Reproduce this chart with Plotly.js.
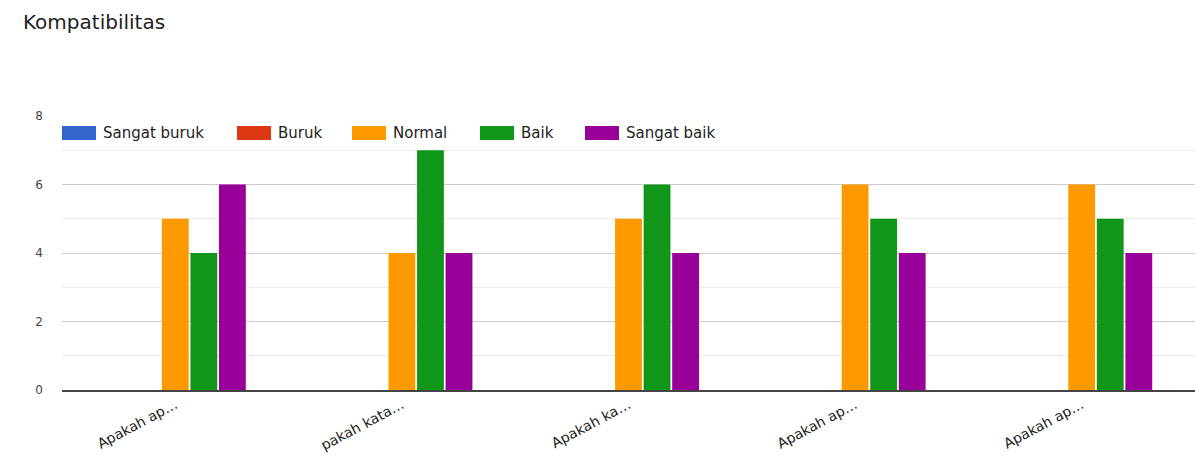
<!DOCTYPE html>
<html>
<head>
<meta charset="utf-8">
<script src="https://cdn.plot.ly/plotly-3.0.1.min.js"></script>
<style>html,body{margin:0;padding:0;background:#fff;}#chart{width:1195px;height:461px;}</style>
</head>
<body>
<div id="chart"></div>
<script>
const categories = ["Apakah ap…", "pakah kata…", "Apakah ka…", "Apakah ap…", "Apakah ap…"];
const seriesNames = ["Sangat buruk", "Buruk", "Normal", "Baik", "Sangat baik"];
const sangatBuruk = [0, 0, 0, 0, 0];
const buruk = [0, 0, 0, 0, 0];
const normal = [5, 4, 5, 6, 6];
const baik = [4, 7, 6, 5, 5];
const sangatBaik = [6, 4, 4, 4, 4];
const yTicks = [0, 2, 4, 6, 8];
const colors = ["#3366cc", "#dc3912", "#ff9900", "#109618", "#990099"];

const W = 1195, H = 461, ML = 62, MR = 0, MT = 116, MB = 71;
const FONT = "'DejaVu Sans', Verdana, sans-serif";
// legend swatch left edges in pixels (layout only)
const legendLeftPx = [62, 237, 352, 480, 585];
const legendYPx = 133;

const xs = categories.map((_, i) => i);
const values = [sangatBuruk, buruk, normal, baik, sangatBaik];
const data = values.map((v, k) => ({
  type: "bar",
  name: seriesNames[k],
  x: xs,
  y: v,
  marker: {color: colors[k]},
  showlegend: false
}));

const pw = W - ML - MR, ph = H - MT - MB;
const px2x = p => (p - ML) / pw;
const py2y = p => (H - MB - p) / ph;
const shapes = [], annotations = [];
seriesNames.forEach((name, k) => {
  const l = legendLeftPx[k];
  shapes.push({type: "rect", xref: "paper", yref: "paper",
    x0: px2x(l), x1: px2x(l + 34), y0: py2y(legendYPx + 7), y1: py2y(legendYPx - 7),
    fillcolor: colors[k], line: {width: 0}});
  annotations.push({xref: "paper", yref: "paper", x: px2x(l + 39), y: py2y(legendYPx),
    xanchor: "left", yanchor: "middle", showarrow: false, text: name,
    font: {family: FONT, size: 15, color: "#222"}});
});

const layout = {
  width: W, height: H,
  margin: {l: ML, r: MR, t: MT, b: MB},
  paper_bgcolor: "#fff", plot_bgcolor: "#fff",
  font: {family: FONT, color: "#222"},
  title: {text: "Kompatibilitas", x: 0, xref: "paper", xanchor: "left", y: 0.952, yanchor: "middle",
          font: {family: FONT, size: 20, color: "#222"}, pad: {l: -39}},
  barmode: "group",
  bargap: 0.37,
  bargroupgap: 0.06,
  showlegend: false,
  shapes: shapes,
  annotations: annotations,
  xaxis: {
    range: [-0.5, 4.5],
    tickmode: "array", tickvals: xs, ticktext: categories,
    tickangle: -28, ticks: "", showgrid: false, zeroline: false,
    showline: true, linecolor: "#444", linewidth: 1.5,
    tickfont: {family: FONT, size: 14, color: "#222"}, fixedrange: true
  },
  yaxis: {
    range: [0, 8], tickmode: "array", tickvals: yTicks,
    showgrid: true, gridcolor: "#cccccc", gridwidth: 1,
    minor: {dtick: 1, showgrid: true, gridcolor: "#ececec", gridwidth: 1},
    zeroline: false, showline: false, ticks: "",
    tickfont: {family: FONT, size: 12, color: "#444"}, ticklabelstandoff: 18, fixedrange: true
  }
};
Plotly.newPlot("chart", data, layout, {displayModeBar: false, staticPlot: true});
</script>
</body>
</html>
